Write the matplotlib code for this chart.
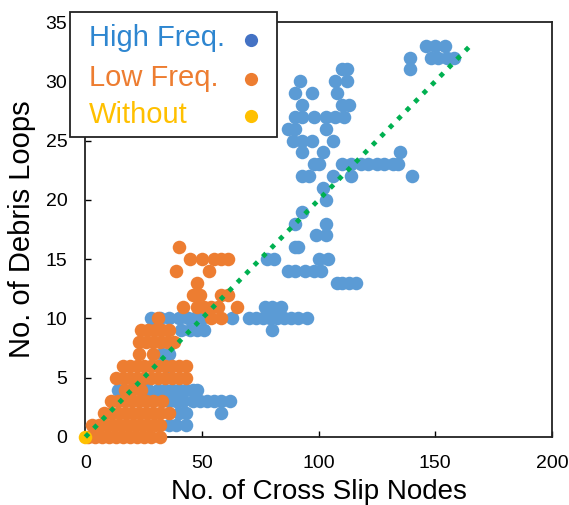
import matplotlib
matplotlib.use("Agg")
import matplotlib.pyplot as plt
from matplotlib.lines import Line2D
from matplotlib.patches import Rectangle

plt.rcParams["font.family"] = ["Liberation Sans", "DejaVu Sans"]

# -----------------------------
# DATA (cross slip nodes vs debris loops)
# -----------------------------
high_x = [146, 150, 154,
          139, 148, 151, 155, 158,
          139, 110, 112,
          92, 107, 112,
          90, 97, 108,
          93, 110, 113,
          90, 93, 98, 103, 107, 111,
          87, 90, 103,
          89, 93, 97, 106,
          93, 102, 135,
          98, 100, 110, 114, 118, 121, 125, 128, 132, 134,
          93, 96, 106, 114, 140,
          102, 103, 93, 90, 103, 99, 103, 90, 91,
          78, 81, 100, 104,
          87, 90, 94, 98, 101,
          108, 110, 113, 116,
          77, 80, 84,
          28, 32, 36, 40, 44, 47, 50, 63, 70, 73, 76, 79, 82, 85, 88, 91, 95,
          41, 45, 48, 51, 80,
          33, 36, 35,
          14, 27, 31, 34, 37, 40, 43, 46, 48,
          36, 39, 42, 46, 49, 52, 55, 58, 62,
          40, 43, 58,
          36, 39, 43]
high_y = [33, 33, 33,
          32, 32, 32, 32, 32,
          31, 31, 31,
          30, 30, 30,
          29, 29, 29,
          28, 28, 28,
          27, 27, 27, 27, 27, 27,
          26, 26, 26,
          25, 25, 25, 25,
          24, 24, 24,
          23, 23, 23, 23, 23, 23, 23, 23, 23, 23,
          22, 22, 22, 22, 22,
          21, 20, 19, 18, 18, 17, 17, 16, 16,
          15, 15, 15, 15,
          14, 14, 14, 14, 14,
          13, 13, 13, 13,
          11, 11, 11,
          10, 10, 10, 10, 10, 10, 10, 10, 10, 10, 10, 10, 10, 10, 10, 10, 10,
          9, 9, 9, 9, 9,
          7, 7, 6,
          4, 4, 4, 4, 4, 4, 4, 4, 4,
          3, 3, 3, 3, 3, 3, 3, 3, 3,
          2, 2, 2,
          1, 1, 1]

low_x = [40,
         45, 50, 55, 58, 61,
         39, 53,
         48,
         46, 49, 58, 61,
         42, 48, 51, 54, 57, 65,
         31, 54, 58,
         24, 27, 30, 33, 36,
         23, 26, 29, 32, 35, 38,
         23, 29,
         16, 19, 22, 25, 28, 31, 34, 37, 40, 43,
         13, 16, 19, 22, 25, 28, 31, 34, 37, 40, 43,
         17, 20, 24,
         11, 14, 17, 20, 23, 26, 29, 33,
         8, 11, 14, 17, 20, 23, 26, 29, 32, 36,
         3, 6, 9, 12, 15, 18, 21, 24, 27, 30, 32,
         1, 4, 7, 10, 13, 16, 19, 22, 25, 28, 32]
low_y = [16,
         15, 15, 15, 15, 15,
         14, 14,
         13,
         12, 12, 12, 12,
         11, 11, 11, 11, 11, 11,
         10, 10, 10,
         9, 9, 9, 9, 9,
         8, 8, 8, 8, 8, 8,
         7, 7,
         6, 6, 6, 6, 6, 6, 6, 6, 6, 6,
         5, 5, 5, 5, 5, 5, 5, 5, 5, 5, 5,
         4, 4, 4,
         3, 3, 3, 3, 3, 3, 3, 3,
         2, 2, 2, 2, 2, 2, 2, 2, 2, 2,
         1, 1, 1, 1, 1, 1, 1, 1, 1, 1, 1,
         0, 0, 0, 0, 0, 0, 0, 0, 0, 0, 0]

without_x = [0]
without_y = [0]

trend_x = [0, 165]
trend_y = [0, 33]

series_labels = ["High Freq.", "Low Freq.", "Without"]
marker_colors = ["#4472C4", "#ED7D31", "#FFC000"]
text_colors = ["#2E86D0", "#ED7D31", "#FFC000"]

W, H = 569, 505


def px(x, y):
    # pixel position (from top-left) -> figure fraction
    return x / W, 1 - y / H


# -----------------------------
# FIGURE
# -----------------------------
fig = plt.figure(figsize=(W / 100, H / 100), dpi=100)
ax = fig.add_axes([0.150, 0.1347, 0.820, 0.8217])

ax.scatter(high_x, high_y, s=95, color="#5B9BD5", linewidths=0, clip_on=False, zorder=2)
ax.scatter(low_x, low_y, s=95, color="#ED7D31", linewidths=0, clip_on=False, zorder=3)
ax.scatter(without_x, without_y, s=95, color="#FFC000", linewidths=0, clip_on=False, zorder=4)
ax.plot(trend_x, trend_y, color="#00B050", lw=3.4, linestyle=(0, (1, 1.55)),
        dash_capstyle="butt", clip_on=False, zorder=5)

ax.set_xlim(0, 200)
ax.set_ylim(0, 35)
ax.set_xticks([0, 50, 100, 150, 200])
ax.set_yticks([0, 5, 10, 15, 20, 25, 30, 35])
ax.tick_params(direction="in", length=4, width=1, labelsize=14, pad=13)
for sp in ax.spines.values():
    sp.set_linewidth(1.3)
    sp.set_color("#222222")

ax.set_xlabel("No. of Cross Slip Nodes", fontsize=20, labelpad=5)
ax.set_ylabel("No. of Debris Loops", fontsize=21, labelpad=7)

# legend box: labels left-aligned, dots in a column on the right
x0, y0 = px(70, 137)
x1, y1 = px(277, 12)
fig.add_artist(Rectangle((x0, y0), x1 - x0, y1 - y0, transform=fig.transFigure,
                         facecolor="white", edgecolor="#222222", lw=1.3, zorder=10))
baselines = [46.5, 85.5, 123]
for i, label in enumerate(series_labels):
    tx, ty = px(89, baselines[i])
    fig.text(tx, ty, label, fontsize=21, color=text_colors[i], ha="left",
             va="baseline", zorder=11)
    mx, my = px(251, baselines[i] - 7)
    fig.add_artist(Line2D([mx], [my], transform=fig.transFigure, ls="none",
                          marker="o", markersize=9.5, color=marker_colors[i],
                          markeredgewidth=0, zorder=11))

fig.savefig("out.png", dpi=100)
